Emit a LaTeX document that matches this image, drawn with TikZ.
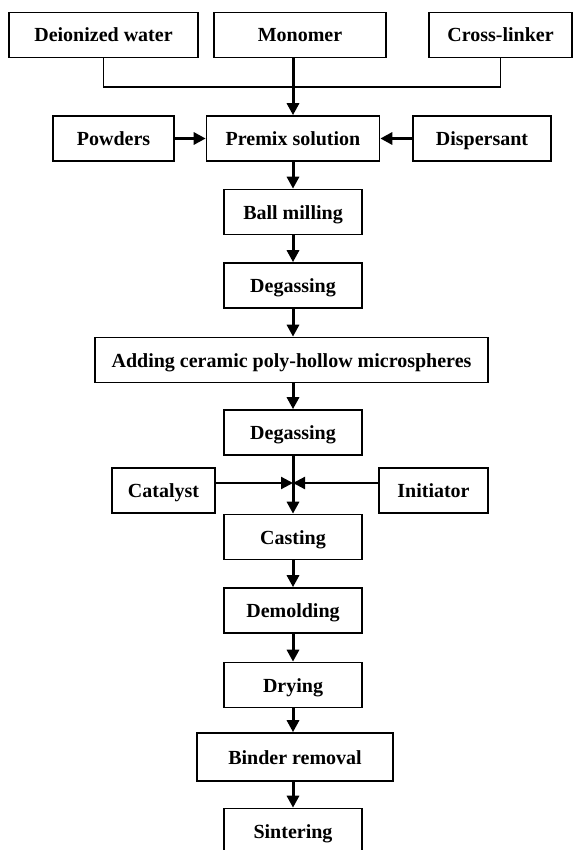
\documentclass[tikz,border=0pt]{standalone}
\usepackage{fontspec}
\setmainfont{Liberation Serif}
\usetikzlibrary{arrows.meta}
\begin{document}
\begin{tikzpicture}[x=1pt,y=-1pt,
box/.style={draw, line width=1.6pt, inner sep=0pt, minimum height=45pt, text height=17pt, text depth=3pt, font=\fontsize{20}{24}\selectfont\bfseries},
bus/.style={line width=1.8pt},
flow/.style={line width=3pt, -{Triangle[length=12pt,width=12pt]}},
feed/.style={line width=2.2pt, -{Triangle[length=12pt,width=12pt]}}]
\useasboundingbox (0,0) rectangle (573,850);
\node [box, minimum width=189pt] (water) at (103.5,35){Deionized water};
\node [box, minimum width=172pt] (mono) at (300,35){Monomer};
\node [box, minimum width=143pt] (cross) at (500.5,35){Cross-linker};
\node [box, minimum width=121pt] (powder) at (113.5,138.5){Powders};
\node [box, minimum width=173pt] (premix) at (293,138.5){Premix solution};
\node [box, minimum width=138pt] (disp) at (482,138.5){Dispersant};
\node [box, minimum width=138pt] (ball) at (293,212){Ball milling};
\node [box, minimum width=138pt] (degasA) at (293,285.5){Degassing};
\node [box, minimum width=393pt] (adding) at (291.5,360){Adding ceramic poly-hollow microspheres};
\node [box, minimum width=138pt] (degasB) at (293,432.5){Degassing};
\node [box, minimum width=103pt] (cat) at (163.5,490.5){Catalyst};
\node [box, minimum width=109pt] (init) at (433.5,490.5){Initiator};
\node [box, minimum width=138pt] (cast) at (293,537){Casting};
\node [box, minimum width=138pt] (demold) at (293,610.5){Demolding};
\node [box, minimum width=138pt] (dry) at (293,685){Drying};
\node [box, minimum width=196pt, minimum height=48pt] (binder) at (295,757){Binder removal};
\node [box, minimum width=138pt] (sinter) at (293,831){Sintering};
% raw materials into premix
\coordinate (join) at (293,87);
\draw[bus] (water.south) |- (join) -| (cross.south);
\draw[flow] (mono.south -| premix.north) -- (premix.north);
\draw[flow] (powder) -- (premix);
\draw[flow] (disp) -- (premix);
% main line
\draw[flow] (premix) -- (ball);
\draw[flow] (ball) -- (degasA);
\draw[flow] (degasA) -- (degasA |- adding.north);
\draw[flow] (degasB |- adding.south) -- (degasB);
\coordinate (mix) at (293,483);
\draw[feed] (cat.east |- mix) -- (mix);
\draw[feed] (init.west |- mix) -- (mix);
\draw[flow] (degasB) -- (cast);
\draw[flow] (cast) -- (demold);
\draw[flow] (demold) -- (dry);
\draw[flow] (dry) -- (dry |- binder.north);
\draw[flow] (dry |- binder.south) -- (sinter);
\end{tikzpicture}
\end{document}
